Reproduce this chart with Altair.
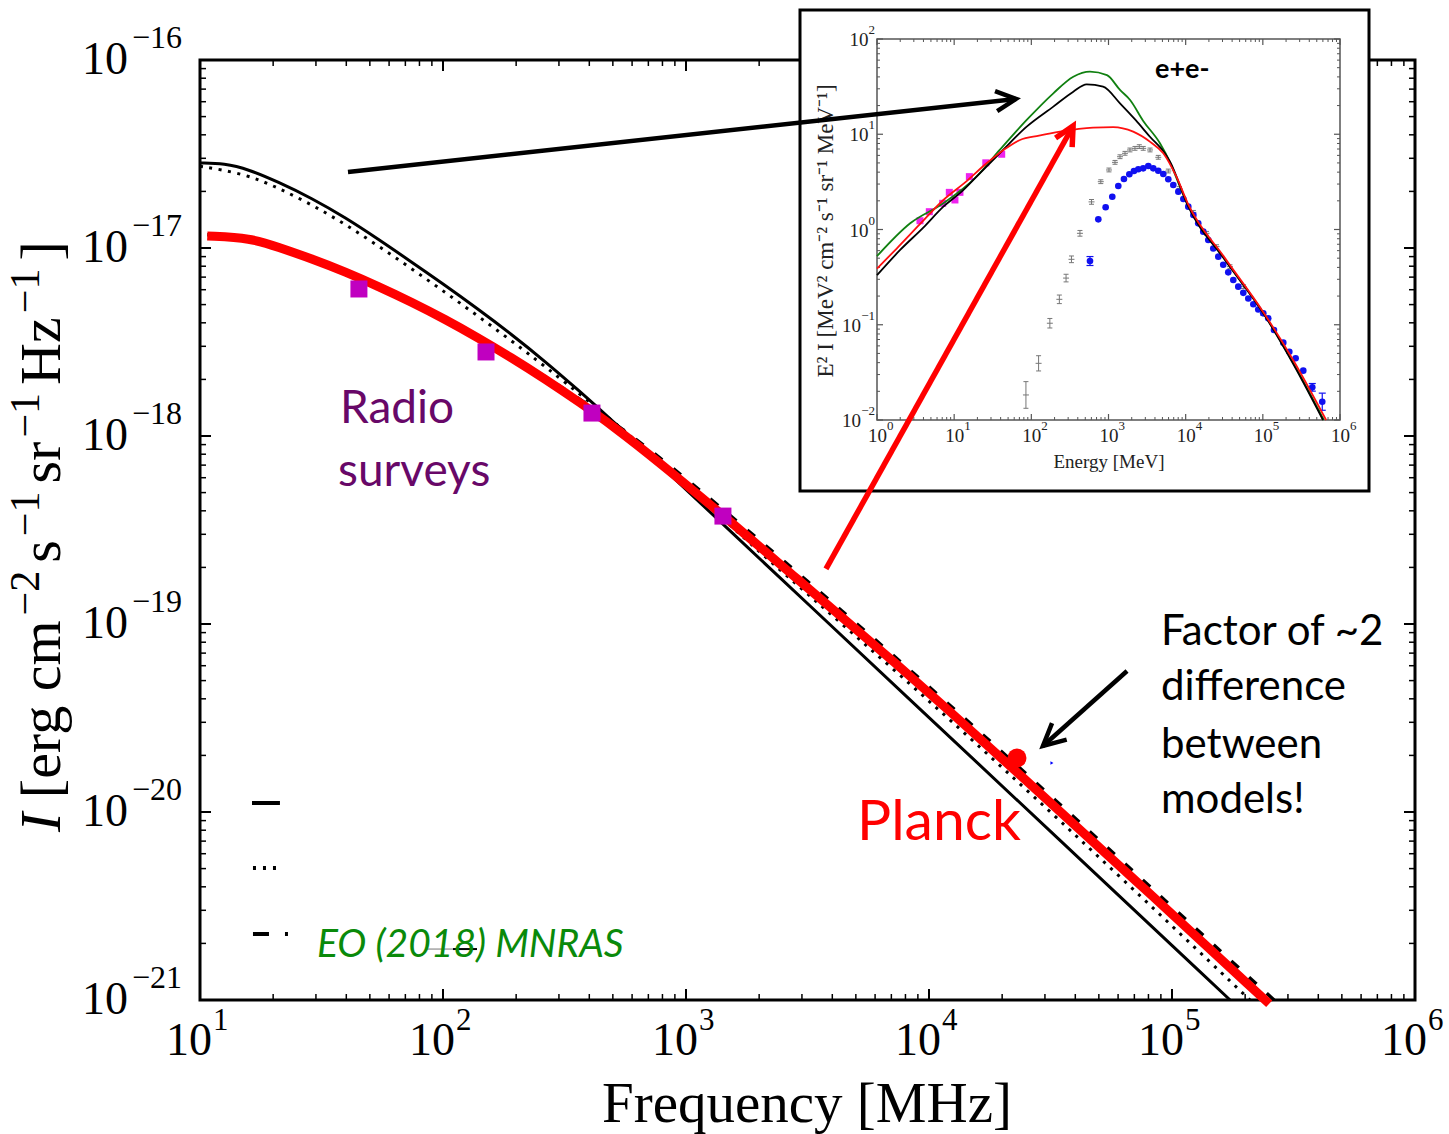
import altair as alt
import pandas as pd

# ---------------- main panel data (log10 values) ----------------
black_lognu = [1.0, 1.1, 1.2, 1.32, 1.46, 1.6, 1.73, 1.87, 2.0, 2.14, 2.28, 2.42,
               2.556, 2.695, 2.9, 3.128, 3.5, 3.951, 4.5, 5.239]
black_logI = [-16.548, -16.55, -16.582, -16.648, -16.735, -16.84, -16.95, -17.074, -17.191, -17.321,
              -17.457, -17.603, -17.755, -17.915, -18.163, -18.44, -18.891, -19.438, -20.103, -21.0]

dotted_lognu = [1.0, 1.185, 1.321, 1.461, 1.597, 1.733, 1.872, 2.008, 2.144, 2.284, 2.42, 2.6, 2.8,
                3.0, 3.169, 3.5, 3.881, 4.3, 4.8, 5.321]
dotted_logI = [-16.565, -16.605, -16.68, -16.77, -16.873, -16.988, -17.111, -17.235, -17.362, -17.496,
               -17.63, -17.815, -18.03, -18.252, -18.465, -18.84, -19.27, -19.76, -20.36, -21.0]

dashed_lognu = [1.03, 1.21, 1.32, 1.46, 1.6, 1.87, 2.14, 2.42, 2.7, 3.0, 3.5, 4.0, 4.5, 5.0, 5.42]
dashed_logI = [-16.93, -16.942, -16.99, -17.05, -17.122, -17.28, -17.465, -17.68, -17.922, -18.222,
               -18.772, -19.33, -19.913, -20.505, -21.0]

red_lognu = [1.03, 1.21, 1.32, 1.46, 1.60, 1.73, 1.87, 2.01, 2.14, 2.28, 2.42, 2.56, 2.70, 2.89, 3.17,
             3.44, 3.72, 3.88, 4.06, 4.36, 4.84, 5.40]
red_logI = [-16.936, -16.947, -16.995, -17.057, -17.128, -17.202, -17.287, -17.38, -17.474, -17.582,
            -17.697, -17.819, -17.947, -18.14, -18.44, -18.741, -19.05, -19.228, -19.435, -19.785, -20.352, -21.02]

radio_lognu = [1.654, 2.177, 2.613, 3.152]
radio_logI = [-17.218, -17.553, -17.878, -18.426]

planck_lognu = [4.362]
planck_logI = [-19.713]

tiny_lognu = [4.506]
tiny_logI = [-19.739]

# ---------------- inset data (log10 E [MeV], log10 E^2 I) ----------------
in_black_logE = [0.0, 0.3, 0.6, 0.86, 1.1, 1.29, 1.59, 1.94, 2.285, 2.544, 2.717, 2.93, 3.149, 3.35,
                 3.537, 3.73, 3.797, 4.034, 4.5, 5.006, 5.4, 5.78]
in_black_logF = [-0.48, -0.215, 0.02, 0.24, 0.40, 0.555, 0.80, 1.08, 1.29, 1.447, 1.524, 1.50, 1.325, 1.15,
                 0.974, 0.80, 0.712, 0.239, -0.31, -0.88, -1.42, -2.0]

in_green_logE = [0.0, 0.43, 0.86, 1.29, 1.59, 1.94, 2.285, 2.544, 2.76, 2.98, 3.149, 3.28, 3.45, 3.667,
                 3.8, 3.926, 4.034, 4.5, 5.006, 5.4, 5.79]
in_green_logF = [-0.28, 0.065, 0.275, 0.555, 0.835, 1.15, 1.43, 1.604, 1.657, 1.62, 1.465, 1.36, 1.14, 0.905,
                 0.70, 0.45, 0.25, -0.305, -0.875, -1.41, -2.0]

in_red_logE = [0.0, 0.255, 0.55, 0.86, 1.15, 1.42, 1.64, 1.853, 2.1, 2.37, 2.8, 3.06, 3.32, 3.54, 3.71,
               3.88, 4.03, 4.5, 5.0, 5.4, 5.82]
in_red_logF = [-0.41, -0.2, 0.05, 0.31, 0.50, 0.695, 0.835, 0.94, 0.985, 1.027, 1.07, 1.075, 1.027, 0.92,
               0.80, 0.554, 0.27, -0.29, -0.86, -1.38, -2.0]

in_radio_logE = [0.557, 0.678, 0.851, 0.937, 1.01, 1.075, 1.197, 1.41, 1.616]
in_radio_logF = [0.092, 0.187, 0.275, 0.39, 0.31, 0.39, 0.555, 0.70, 0.79]

gray_logE = [1.93, 2.094, 2.24, 2.363, 2.45, 2.52, 2.63, 2.78, 2.90, 3.006, 3.084, 3.149, 3.214, 3.278,
             3.343, 3.399, 3.45, 3.538, 3.645, 3.775, 3.92, 4.10, 4.27, 4.40, 4.574, 4.75, 5.0]
gray_logF = [-1.737, -1.405, -0.984, -0.733, -0.51, -0.313, -0.04, 0.29, 0.502, 0.625, 0.705, 0.764, 0.80,
             0.835, 0.852, 0.87, 0.852, 0.835, 0.758, 0.614, 0.43, 0.18, -0.04, -0.18, -0.39, -0.60, -0.88]
gray_logErr = [0.14, 0.08, 0.05, 0.045, 0.04, 0.035, 0.03, 0.025, 0.02, 0.02, 0.02, 0.02, 0.02, 0.02,
               0.02, 0.02, 0.02, 0.02, 0.02, 0.02, 0.02, 0.02, 0.02, 0.02, 0.02, 0.02, 0.02]

blue_logE = [2.76, 2.868, 2.963, 3.049, 3.127, 3.20, 3.27, 3.33, 3.386, 3.45, 3.516, 3.58, 3.645, 3.71,
             3.775, 3.84, 3.905, 3.97, 4.034, 4.10, 4.163, 4.228, 4.293, 4.358, 4.423, 4.487, 4.552,
             4.617, 4.682, 4.747, 4.812, 4.877, 4.941, 5.006, 5.07, 5.144, 5.265, 5.343, 5.425, 5.524,
             5.641, 5.77]
blue_logF = [-0.331, 0.107, 0.233, 0.344, 0.457, 0.53, 0.58, 0.614, 0.632, 0.642, 0.667, 0.642, 0.617,
             0.583, 0.527, 0.467, 0.397, 0.32, 0.24, 0.152, 0.065, -0.023, -0.11, -0.2, -0.285, -0.37,
             -0.45, -0.53, -0.60, -0.665, -0.725, -0.785, -0.84, -0.88, -0.933, -1.055, -1.188, -1.283,
             -1.352, -1.482, -1.657, -1.808]
blue_err_logE = [2.76, 5.641, 5.77]
blue_err_logF = [-0.331, -1.657, -1.808]
blue_err_size = [0.047, 0.04, 0.09]

# ---------------- tick values ----------------
main_x_major = [1, 2, 3, 4, 5, 6]
main_y_major = [-21, -20, -19, -18, -17, -16]
in_x_major = [0, 1, 2, 3, 4, 5, 6]
in_y_major = [-2, -1, 0, 1, 2]
MINUS = "\u2212"

# ---------------- layout / style ----------------
W, H = 1215, 940
SERIF = "Liberation Serif"
SANS = "Lato"
PURPLE = "#680868"
GREEN_T = "#0a8a0a"

XS = alt.Scale(type="log", domain=[10, 1e6], nice=False)
YS = alt.Scale(type="log", domain=[1e-21, 1e-16], nice=False)
XI = alt.Scale(type="log", domain=[1, 1e6], range=[677, 1140], nice=False)
YI = alt.Scale(type="log", domain=[0.01, 100], range=[360, -21], nice=False)

ONE = pd.DataFrame({"k": [0]})


def pts(lx, ly):
    return pd.DataFrame({"x": [10 ** v for v in lx], "y": [10 ** v for v in ly]})


def xy(ch, xs, ys):
    return ch.encode(x=alt.X("x:Q", scale=xs, axis=None), y=alt.Y("y:Q", scale=ys, axis=None))


def line(lx, ly, xs, ys, color, width, dash=None, interp="monotone"):
    kw = dict(color=color, strokeWidth=width, interpolate=interp, strokeCap="butt")
    if dash:
        kw["strokeDash"] = dash
    return xy(alt.Chart(pts(lx, ly)).mark_line(**kw), xs, ys)


def hseg(lx1, lx2, ly, xs, ys, color, width, dash=None):
    df = pd.DataFrame({"x": [10 ** lx1], "x2": [10 ** lx2], "y": [10 ** ly]})
    kw = dict(color=color, strokeWidth=width, strokeCap="butt")
    if dash:
        kw["strokeDash"] = dash
    return alt.Chart(df).mark_rule(**kw).encode(
        x=alt.X("x:Q", scale=xs, axis=None), x2="x2:Q", y=alt.Y("y:Q", scale=ys, axis=None))


def xticks(vals, xs, y0, y1, color, width):
    return alt.Chart(pd.DataFrame({"v": vals})).mark_rule(color=color, strokeWidth=width).encode(
        x=alt.X("v:Q", scale=xs, axis=None), y=alt.value(y0), y2=alt.value(y1))


def yticks(vals, ys, x0, x1, color, width):
    return alt.Chart(pd.DataFrame({"v": vals})).mark_rule(color=color, strokeWidth=width).encode(
        y=alt.Y("v:Q", scale=ys, axis=None), x=alt.value(x0), x2=alt.value(x1))


def text_at(lx, ly, txt, xs, ys, size, color, font=SANS, style="normal", weight="normal", align="left"):
    df = pd.DataFrame({"x": [10 ** lx], "y": [10 ** ly], "t": [txt]})
    return alt.Chart(df).mark_text(font=font, fontSize=size, color=color, fontStyle=style,
                                   fontWeight=weight, align=align, baseline="alphabetic").encode(
        x=alt.X("x:Q", scale=xs, axis=None), y=alt.Y("y:Q", scale=ys, axis=None), text="t:N")


def text_px(x, y, txt, size, font=SERIF, style="normal", weight="normal", align="left",
            angle=0, baseline="alphabetic", color="black"):
    kw = dict(font=font, fontSize=size, color=color, fontStyle=style, fontWeight=weight,
              align=align, baseline=baseline)
    if angle:
        kw["angle"] = angle
    return alt.Chart(pd.DataFrame({"t": [txt]})).mark_text(**kw).encode(
        x=alt.value(x), y=alt.value(y), text="t:N")


# ---------------- main panel ----------------
main_layers = []
main_layers.append(alt.Chart(ONE).mark_rect(fill="white", fillOpacity=0, stroke="black", strokeWidth=3).encode(
    x=alt.value(0), x2=alt.value(W), y=alt.value(0), y2=alt.value(H)))

mx_major = [10 ** k for k in main_x_major]
mx_minor = [m * 10 ** k for k in range(1, 6) for m in range(2, 10)]
my_major = [10.0 ** k for k in main_y_major]
my_minor = [m * 10.0 ** k for k in range(-21, -16) for m in range(2, 10)]
main_layers += [
    xticks(mx_major, XS, H, H - 11, "black", 2), xticks(mx_minor, XS, H, H - 6, "black", 1.5),
    xticks(mx_major, XS, 0, 11, "black", 2), xticks(mx_minor, XS, 0, 6, "black", 1.5),
    yticks(my_major, YS, 0, 11, "black", 2), yticks(my_minor, YS, 0, 6, "black", 1.5),
    yticks(my_major, YS, W, W - 11, "black", 2), yticks(my_minor, YS, W, W - 6, "black", 1.5),
]

# tick labels
xl = pd.DataFrame({"v": mx_major, "b": ["10"] * len(mx_major), "e": [str(k) for k in main_x_major]})
main_layers.append(alt.Chart(xl).mark_text(font=SERIF, fontSize=46, align="right", baseline="alphabetic",
                                           dx=12, color="black").encode(
    x=alt.X("v:Q", scale=XS, axis=None), y=alt.value(H + 55), text="b:N"))
main_layers.append(alt.Chart(xl).mark_text(font=SERIF, fontSize=31, align="left", baseline="alphabetic",
                                           dx=13, color="black").encode(
    x=alt.X("v:Q", scale=XS, axis=None), y=alt.value(H + 30), text="e:N"))
yl = pd.DataFrame({"v": my_major, "b": ["10"] * len(my_major),
                   "e": [MINUS + str(abs(k)) for k in main_y_major]})
main_layers.append(alt.Chart(yl).mark_text(font=SERIF, fontSize=46, align="right", baseline="alphabetic",
                                           dy=14, color="black").encode(
    y=alt.Y("v:Q", scale=YS, axis=None), x=alt.value(-72), text="b:N"))
main_layers.append(alt.Chart(yl).mark_text(font=SERIF, fontSize=32, align="left", baseline="alphabetic",
                                           dy=-12, color="black").encode(
    y=alt.Y("v:Q", scale=YS, axis=None), x=alt.value(-68), text="e:N"))

# axis titles
main_layers.append(text_px(607, 1062, "Frequency [MHz]", 57, align="center"))
F, f = 58, 42
TW = {"I": 0.333, "[": 0.333, "e": 0.444, "r": 0.333, "g": 0.5, "c": 0.444, "m": 0.778, "s": 0.389,
      "H": 0.722, "z": 0.444, "]": 0.333, MINUS: 0.564, "1": 0.5, "2": 0.5, " ": 0.25}
segs = [("I", F, "italic", False, 0), ("[erg cm", F, "normal", False, 0.25 * F),
        (MINUS + "2", f, "normal", True, 4), ("s", F, "normal", False, 8),
        (MINUS + "1", f, "normal", True, 4), ("sr", F, "normal", False, 8),
        (MINUS + "1", f, "normal", True, 4), ("Hz", F, "normal", False, 8),
        (MINUS + "1", f, "normal", True, 4), ("]", F, "normal", False, 8)]
ycur = 772
for txt, size, style, sup, gap in segs:
    ycur -= gap
    main_layers.append(text_px(-161 if sup else -140, ycur, txt, size, style=style, angle=270))
    ycur -= sum(TW[ch] for ch in txt) * size

# curves
main_layers += [
    line(black_lognu, black_logI, XS, YS, "black", 3, interp="basis"),
    line(dotted_lognu, dotted_logI, XS, YS, "black", 3, dash=[3, 6.5], interp="basis"),
    line(dashed_lognu, dashed_logI, XS, YS, "black", 3.5, dash=[10, 14], interp="basis"),
    line(red_lognu, red_logI, XS, YS, "#ff0000", 9, interp="basis"),
    xy(alt.Chart(pts(radio_lognu, radio_logI)).mark_point(shape="square", filled=True, size=289,
                                                           color="#c000c0", opacity=1), XS, YS),
    xy(alt.Chart(pts(planck_lognu, planck_logI)).mark_point(shape="circle", filled=True, size=361,
                                                            color="#ff0000", opacity=1), XS, YS),
    xy(alt.Chart(pts(tiny_lognu, tiny_logI)).mark_point(shape="triangle-right", filled=True, size=12,
                                                        color="#0000ff", opacity=1), XS, YS),
]

# legend-like stubs (labels are absent in the original)
main_layers += [
    hseg(1.214, 1.329, -19.952, XS, YS, "black", 4),
    hseg(1.218, 1.317, -20.298, XS, YS, "black", 4, dash=[3, 7]),
    hseg(1.218, 1.362, -20.649, XS, YS, "black", 4, dash=[16, 16]),
    hseg(1.934, 2.041, -20.729, XS, YS, "#777777", 1),
    hseg(2.041, 2.14, -20.729, XS, YS, "black", 2),
]

# annotation texts
main_layers += [
    text_at(1.576, -17.931, "Radio", XS, YS, 46, PURPLE),
    text_at(1.568, -18.266, "surveys", XS, YS, 46, PURPLE),
    text_at(3.704, -20.149, "Planck", XS, YS, 57, "#ff0000"),
    text_at(4.955, -19.112, "Factor of ~2", XS, YS, 42, "black"),
    text_at(4.955, -19.404, "difference", XS, YS, 42, "black"),
    text_at(4.955, -19.713, "between", XS, YS, 42, "black"),
    text_at(4.955, -20.005, "models!", XS, YS, 42, "black"),
    text_at(1.481, -20.771, "EO (2018) MNRAS", XS, YS, 39, GREEN_T, style="italic"),
]
main = alt.layer(*main_layers)

# ---------------- inset ----------------
ins = []
ins.append(alt.Chart(ONE).mark_rect(fill="white", stroke="black", strokeWidth=3).encode(
    x=alt.value(600), x2=alt.value(1169), y=alt.value(-50), y2=alt.value(431)))
ins.append(alt.Chart(ONE).mark_rect(fill="white", fillOpacity=0, stroke="#555555", strokeWidth=1.5).encode(
    x=alt.value(677), x2=alt.value(1140), y=alt.value(-21), y2=alt.value(360)))

ix_major = [10.0 ** k for k in in_x_major]
ix_minor = [m * 10.0 ** k for k in range(0, 6) for m in range(2, 10)]
iy_major = [10.0 ** k for k in in_y_major]
iy_minor = [m * 10.0 ** k for k in range(-2, 2) for m in range(2, 10)]
TC = "#555555"
ins += [
    xticks(ix_major, XI, 360, 354, TC, 1.2), xticks(ix_minor, XI, 360, 357, TC, 1),
    xticks(ix_major, XI, -21, -15, TC, 1.2), xticks(ix_minor, XI, -21, -18, TC, 1),
    yticks(iy_major, YI, 677, 683, TC, 1.2), yticks(iy_minor, YI, 677, 680, TC, 1),
    yticks(iy_major, YI, 1140, 1134, TC, 1.2), yticks(iy_minor, YI, 1140, 1137, TC, 1),
]

ixl = pd.DataFrame({"v": ix_major, "b": ["10"] * len(ix_major), "e": [str(k) for k in in_x_major]})
ins.append(alt.Chart(ixl).mark_text(font=SERIF, fontSize=19, align="right", baseline="alphabetic",
                                    dx=10, color="#222222").encode(
    x=alt.X("v:Q", scale=XI, axis=None), y=alt.value(382), text="b:N"))
ins.append(alt.Chart(ixl).mark_text(font=SERIF, fontSize=13, align="left", baseline="alphabetic",
                                    dx=10, color="#222222").encode(
    x=alt.X("v:Q", scale=XI, axis=None), y=alt.value(370), text="e:N"))
neg = pd.DataFrame({"v": [10.0 ** k for k in in_y_major if k < 0], "b": "10",
                    "e": [MINUS + str(abs(k)) for k in in_y_major if k < 0]})
pos = pd.DataFrame({"v": [10.0 ** k for k in in_y_major if k >= 0], "b": "10",
                    "e": [str(k) for k in in_y_major if k >= 0]})
for d, ew in ((neg, 14), (pos, 6.5)):
    ins.append(alt.Chart(d).mark_text(font=SERIF, fontSize=19, align="right", baseline="alphabetic",
                                      dx=-ew, dy=7, color="#222222").encode(
        y=alt.Y("v:Q", scale=YI, axis=None), x=alt.value(675), text="b:N"))
    ins.append(alt.Chart(d).mark_text(font=SERIF, fontSize=13, align="right", baseline="alphabetic",
                                      dy=-5, color="#222222").encode(
        y=alt.Y("v:Q", scale=YI, axis=None), x=alt.value(675), text="e:N"))

ins.append(text_px(909, 408, "Energy [MeV]", 19, align="center", color="#222222"))
ins.append(text_px(626, 171, "E\u00b2 I [MeV\u00b2 cm\u207b\u00b2 s\u207b\u00b9 sr\u207b\u00b9 MeV\u207b\u00b9]", 23,
                   align="center", baseline="middle", angle=270, color="#222222"))
ins.append(text_px(955, 18, "e+e-", 27, font=SANS, weight="bold"))

# gray error-bar data
gdf = pd.DataFrame({"x": [10 ** v for v in gray_logE], "y": [10 ** v for v in gray_logF],
                    "lo": [10 ** (v - e) for v, e in zip(gray_logF, gray_logErr)],
                    "hi": [10 ** (v + e) for v, e in zip(gray_logF, gray_logErr)]})
GC = "#777777"
ins.append(alt.Chart(gdf).mark_rule(color=GC, strokeWidth=1).encode(
    x=alt.X("x:Q", scale=XI, axis=None), y=alt.Y("lo:Q", scale=YI, axis=None), y2="hi:Q"))
for fld, sz in (("lo", 5), ("hi", 5), ("y", 6)):
    ins.append(alt.Chart(gdf).mark_tick(color=GC, orient="horizontal", size=sz, thickness=1, opacity=1).encode(
        x=alt.X("x:Q", scale=XI, axis=None), y=alt.Y(f"{fld}:Q", scale=YI, axis=None)))

# blue points
BC = "#1010f0"
bdf = pd.DataFrame({"x": [10 ** v for v in blue_err_logE],
                    "lo": [10 ** (v - e) for v, e in zip(blue_err_logF, blue_err_size)],
                    "hi": [10 ** (v + e) for v, e in zip(blue_err_logF, blue_err_size)]})
ins.append(alt.Chart(bdf).mark_rule(color=BC, strokeWidth=1.2).encode(
    x=alt.X("x:Q", scale=XI, axis=None), y=alt.Y("lo:Q", scale=YI, axis=None), y2="hi:Q"))
for fld in ("lo", "hi"):
    ins.append(alt.Chart(bdf).mark_tick(color=BC, orient="horizontal", size=7, thickness=1.2, opacity=1).encode(
        x=alt.X("x:Q", scale=XI, axis=None), y=alt.Y(f"{fld}:Q", scale=YI, axis=None)))
ins.append(xy(alt.Chart(pts(blue_logE, blue_logF)).mark_point(shape="circle", filled=True, size=44,
                                                              color=BC, opacity=1), XI, YI))
ins.append(xy(alt.Chart(pts(in_radio_logE, in_radio_logF)).mark_point(shape="square", filled=True, size=49,
                                                                      color="#ee22ee", opacity=1), XI, YI))
ins += [
    line(in_green_logE, in_green_logF, XI, YI, "#108010", 1.8),
    line(in_black_logE, in_black_logF, XI, YI, "black", 1.8),
    line(in_red_logE, in_red_logF, XI, YI, "#ff1010", 1.8),
]
inset = alt.layer(*ins)

# ---------------- arrows (drawn on top, main coordinates) ----------------
arrow_from_lognu = [1.609, 3.576, 4.815]
arrow_from_logI = [-16.596, -18.707, -19.25]
arrow_to_lognu = [4.358, 4.593, 4.469]
arrow_to_logI = [-16.207, -16.351, -19.649]
arrow_colors = ["black", "#ff0000", "black"]
arrow_widths = [4.5, 5.5, 4.5]
arrow_angles = [353.8, 299.1, 138.2]
arrow_head_sizes = [1600, 1444, 1936]
HEAD = "M -1 -0.5 L 0 0 L -1 0.5"

arr = []
for i in range(3):
    arr.append(line([arrow_from_lognu[i], arrow_to_lognu[i]], [arrow_from_logI[i], arrow_to_logI[i]],
                    XS, YS, arrow_colors[i], arrow_widths[i], interp="linear"))
    arr.append(xy(alt.Chart(pts([arrow_to_lognu[i]], [arrow_to_logI[i]])).mark_point(
        shape=HEAD, size=arrow_head_sizes[i], angle=arrow_angles[i], filled=False,
        color=arrow_colors[i], strokeWidth=arrow_widths[i], strokeJoin="miter", opacity=1), XS, YS))
arrows = alt.layer(*arr)

chart = alt.layer(main, inset, arrows).resolve_scale(x="independent", y="independent").properties(
    width=W, height=H,
    autosize=alt.AutoSizeParams(type="none"),
    padding={"left": 200, "top": 60, "right": 34, "bottom": 134},
).configure_view(strokeWidth=0)

chart.save("out.html", embed_options={"renderer": "svg", "actions": False})
